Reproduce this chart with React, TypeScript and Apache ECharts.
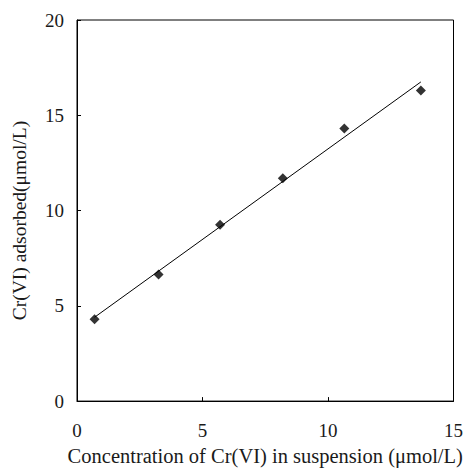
import React, { useEffect, useRef } from "react";
import * as echarts from "echarts";

// Measured adsorption points: concentration in suspension vs. amount adsorbed
const concentration = [0.7, 3.25, 5.7, 8.2, 10.65, 13.7];
const adsorbed = [4.3, 6.65, 9.25, 11.7, 14.3, 16.3];

// End points of the fitted straight line
const fitX = [0.7, 13.7];
const fitY = [4.4, 16.75];

const xTicks = [0, 5, 10, 15];
const yTicks = [0, 5, 10, 15, 20];

const FONT = "'Liberation Serif', 'DejaVu Serif', serif";

export default function App() {
  const ref = useRef<HTMLDivElement>(null);

  useEffect(() => {
    if (!ref.current) return;
    const chart = echarts.init(ref.current, undefined, { renderer: "svg" });
    const axisCommon = {
      type: "value" as const,
      axisLine: { show: true, lineStyle: { color: "#000", width: 1 } },
      axisTick: { show: true, inside: true, length: 4, lineStyle: { color: "#000" } },
      splitLine: { show: false },
      nameLocation: "middle" as const,
    };
    chart.setOption({
      animation: false,
      backgroundColor: "#fff",
      grid: {
        left: 77,
        right: 11,
        top: 20,
        bottom: 64,
        show: true,
        borderColor: "#000",
        borderWidth: 1,
      },
      xAxis: {
        ...axisCommon,
        min: xTicks[0],
        max: xTicks[xTicks.length - 1],
        interval: 5,
        name: "Concentration of Cr(VI) in suspension (μmol/L)",
        nameGap: 39,
        nameTextStyle: { fontFamily: FONT, fontSize: 20.5, color: "#1a1a1a" },
        axisLabel: { fontFamily: FONT, fontSize: 19, color: "#1a1a1a", margin: 20 },
      },
      yAxis: {
        ...axisCommon,
        min: yTicks[0],
        max: yTicks[yTicks.length - 1],
        interval: 5,
        name: "Cr(VI) adsorbed(μmol/L)",
        nameGap: 48,
        nameTextStyle: {
          fontFamily: FONT,
          fontSize: 19.5,
          color: "#1a1a1a",
          padding: [0, 20, 0, 0],
        },
        axisLabel: { fontFamily: FONT, fontSize: 19, color: "#1a1a1a", margin: 13 },
      },
      series: [
        {
          type: "line",
          data: fitX.map((x, i) => [x, fitY[i]]),
          symbol: "none",
          lineStyle: { color: "#000", width: 1 },
          silent: true,
        },
        {
          type: "scatter",
          data: concentration.map((x, i) => [x, adsorbed[i]]),
          symbol: "diamond",
          symbolSize: 10,
          itemStyle: { color: "#000" },
        },
      ],
    });
    return () => chart.dispose();
  }, []);

  return <div ref={ref} style={{ width: 466, height: 471, position: "absolute", left: 0, top: 0 }} />;
}
